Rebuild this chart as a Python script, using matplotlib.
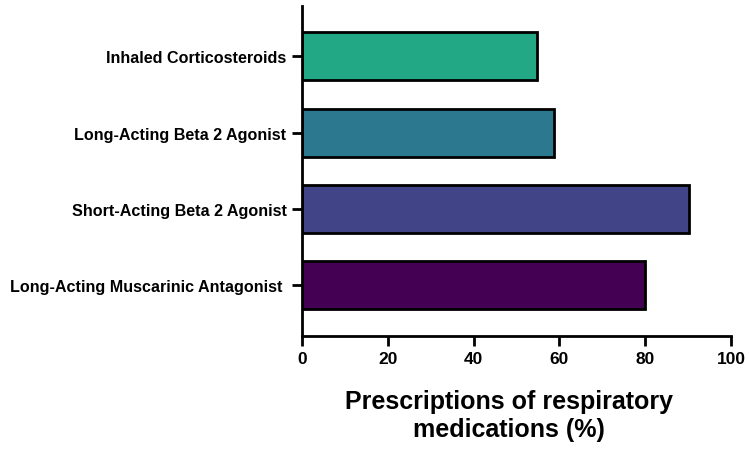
import matplotlib
matplotlib.use("Agg")
import matplotlib.pyplot as plt

categories = ["Long-Acting Muscarinic Antagonist ", "Short-Acting Beta 2 Agonist",
              "Long-Acting Beta 2 Agonist", "Inhaled Corticosteroids"]
values = [80, 90.2, 58.8, 54.8]
colors = ["#440154", "#414487", "#2C788E", "#22A884"]
xticks = [0, 20, 40, 60, 80, 100]

plt.rcParams['font.family'] = ['Liberation Sans', 'DejaVu Sans']
plt.rcParams['font.weight'] = 'bold'

fig = plt.figure(figsize=(7.49, 4.52), dpi=100)
ax = fig.add_axes([0.403, 0.2544, 0.573, 0.730])
ax.barh(range(len(categories)), values, height=0.63, color=colors,
        edgecolor="black", linewidth=2)
ax.set_xlim(0, 100)
ax.set_ylim(-0.67, 3.66)
ax.set_xticks(xticks)
ax.set_xticklabels([str(t) for t in xticks], fontsize=12.5, fontweight='bold')
ax.set_yticks(range(len(categories)))
ax.set_yticklabels(categories, fontsize=11.6, fontweight='bold')
for s in ["top", "right"]:
    ax.spines[s].set_visible(False)
for s in ["left", "bottom"]:
    ax.spines[s].set_linewidth(2)
ax.tick_params(axis='both', width=2, length=7, pad=4)
ax.set_xlabel("Prescriptions of respiratory\nmedications (%)", fontsize=18,
              fontweight='bold', labelpad=16, linespacing=1.25)
ax.xaxis.label.set_x(0.482)
fig.savefig("out.png", dpi=100)
